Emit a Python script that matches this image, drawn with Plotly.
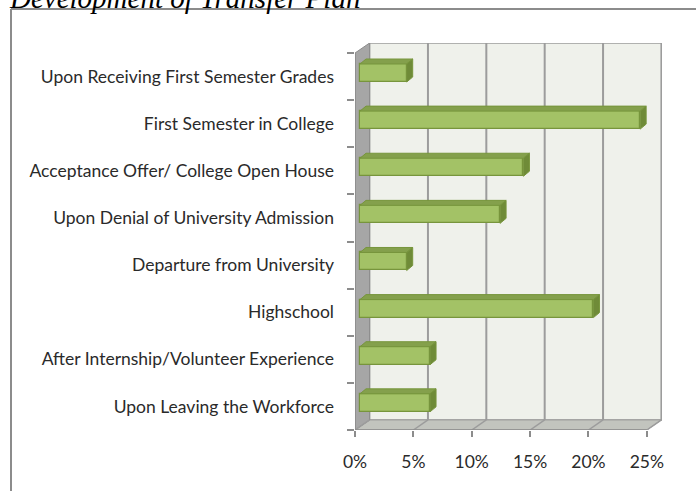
import plotly.graph_objects as go

# ---- data ----
categories = [
    "Upon Leaving the Workforce",
    "After Internship/Volunteer Experience",
    "Highschool",
    "Departure from University",
    "Upon Denial of University Admission",
    "Acceptance Offer/ College Open House",
    "First Semester in College",
    "Upon Receiving First Semester Grades",
]
values = [6, 6, 20, 4, 12, 14, 24, 4]
x_ticks = [0, 5, 10, 15, 20, 25]
x_ticktext = ["0%", "5%", "10%", "15%", "20%", "25%"]
title_text = "Development of Transfer Plan"

# ---- layout geometry (pixels) ----
W, H = 696, 491
PL, PR, PT, PB = 355, 662, 43, 430
pw, ph = PR - PL, PB - PT
n = len(categories)
DX = 1.25            # wall depth in x units
XMAX = 26.3
ux = pw / XMAX       # px per x unit
DY = 0.213
YMAX = n + DY
uy = ph / YMAX

def px2paper_x(px):
    return (px - PL) / pw

def px2paper_y(py):
    return (PB - py) / ph

grid = "#9C9C9C"
shapes = []
# back wall
shapes.append(dict(type="rect", xref="x", yref="y", x0=DX, x1=XMAX, y0=DY, y1=YMAX,
                   fillcolor="#EFF1EB", line=dict(color=grid, width=1.5), layer="below"))
# floor
shapes.append(dict(type="path", xref="x", yref="y",
                   path=f"M0,0 L25,0 L{25+DX},{DY} L{DX},{DY} Z",
                   fillcolor="#C2C4BE", line=dict(color=grid, width=1), layer="below"))
# left wall
shapes.append(dict(type="path", xref="x", yref="y",
                   path=f"M0,0 L{DX},{DY} L{DX},{YMAX} L0,{n} Z",
                   fillcolor="#A6A6A6", line=dict(color="#8C8C8C", width=1), layer="below"))
# gridlines on back wall and floor
for v in x_ticks:
    if v > 0:
        shapes.append(dict(type="line", xref="x", yref="y", x0=v + DX, x1=v + DX, y0=DY, y1=YMAX,
                           line=dict(color=grid, width=2), layer="below"))
    shapes.append(dict(type="line", xref="x", yref="y", x0=v, x1=v + DX, y0=0, y1=DY,
                       line=dict(color=grid, width=1.5), layer="below"))
# front axis lines
shapes.append(dict(type="line", xref="x", yref="y", x0=-0.15, x1=25, y0=0, y1=0,
                   line=dict(color="#8C8C8C", width=1.5)))
shapes.append(dict(type="line", xref="x", yref="y", x0=0, x1=0, y0=0, y1=n,
                   line=dict(color="#8C8C8C", width=1.5)))
# outer frame
shapes.append(dict(type="line", xref="paper", yref="paper",
                   x0=px2paper_x(11), x1=px2paper_x(W + 2), y0=px2paper_y(9), y1=px2paper_y(9),
                   line=dict(color="#8C8C8C", width=2)))
shapes.append(dict(type="line", xref="paper", yref="paper",
                   x0=px2paper_x(11), x1=px2paper_x(11), y0=px2paper_y(9), y1=px2paper_y(H + 2),
                   line=dict(color="#8C8C8C", width=2)))

# ---- bars (3D look) ----
bx0 = 5.0 / ux          # front-face offset into depth
byo = 3.6 / uy
bw = 18.0 / uy
bdx = 6.0 / ux
bdy = 5.0 / uy
front = "#A3C266"
top_c = "#84A04C"
side_c = "#6F8B38"
edge = "#77953C"

fig = go.Figure()
ycent = [i + 0.5 + byo for i in range(n)]
fig.add_trace(go.Bar(y=ycent, x=values, base=bx0, orientation="h", width=bw,
                     marker=dict(color=front, line=dict(color=edge, width=1.2)),
                     hoverinfo="skip", showlegend=False))
for yc, v in zip(ycent, values):
    yt, yb = yc + bw / 2, yc - bw / 2
    xe = bx0 + v
    fig.add_trace(go.Scatter(
        x=[bx0, bx0 + bdx, xe + bdx, xe, bx0], y=[yt, yt + bdy, yt + bdy, yt, yt],
        fill="toself", fillcolor=top_c, mode="lines", line=dict(color=edge, width=1),
        hoverinfo="skip", showlegend=False))
    fig.add_trace(go.Scatter(
        x=[xe, xe + bdx, xe + bdx, xe, xe], y=[yb, yb + bdy, yt + bdy, yt, yb],
        fill="toself", fillcolor=side_c, mode="lines", line=dict(color=edge, width=1),
        hoverinfo="skip", showlegend=False))

font_family = "Lato, 'Open Sans', sans-serif"
fig.update_layout(
    width=W, height=H,
    margin=dict(l=PL, r=W - PR, t=PT, b=H - PB, pad=0),
    paper_bgcolor="white", plot_bgcolor="rgba(0,0,0,0)",
    shapes=shapes,
    bargap=0,
    xaxis=dict(range=[0, XMAX], tickvals=x_ticks, ticktext=x_ticktext,
               showgrid=False, zeroline=False, showline=False,
               ticks="outside", ticklen=6, tickcolor="#8C8C8C", tickwidth=1.5,
               ticklabelstandoff=10,
               tickfont=dict(family=font_family, size=17.5, color="#2a2a2a"), fixedrange=True),
    yaxis=dict(range=[0, YMAX], tickvals=[i + 0.5 for i in range(n)], ticktext=categories,
               showgrid=False, zeroline=False, showline=False, ticks="", ticklen=0,
               ticklabelstandoff=20,
               minor=dict(tickvals=list(range(n + 1)), ticks="outside", ticklen=7,
                          tickcolor="#8C8C8C", tickwidth=1.5, showgrid=False),
               tickfont=dict(family=font_family, size=17.5, color="#2a2a2a"), fixedrange=True),
    annotations=[dict(text=title_text, xref="paper", yref="paper",
                      x=px2paper_x(7), xanchor="left",
                      y=px2paper_y(-2), yanchor="middle", showarrow=False,
                      font=dict(family="'Liberation Serif', 'Times New Roman', serif",
                                size=29, color="black", style="italic"))],
)

fig.write_html("out.html", config={"displayModeBar": False},
               post_script="document.body.style.margin='0';document.body.style.overflow='hidden';")
